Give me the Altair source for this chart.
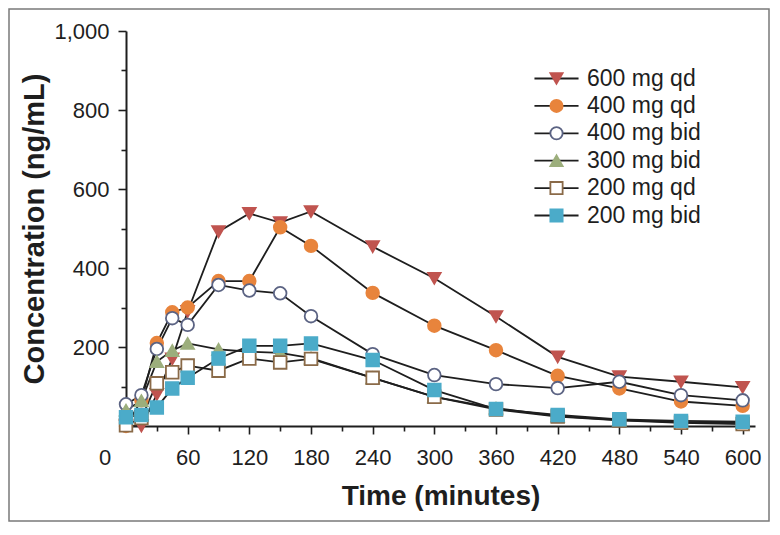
import altair as alt
import pandas as pd

# ---- data ----
times = [0, 15, 30, 45, 60, 90, 120, 150, 180, 240, 300, 360, 420, 480, 540, 600]
series_names = ["600 mg qd", "400 mg qd", "400 mg bid", "300 mg bid", "200 mg qd", "200 mg bid"]
conc_600_qd = [0, 0, 80, 170, 290, 492, 538, 515, 543, 454, 374, 277, 175, 125, 112, 98]
conc_400_qd = [0, 65, 210, 288, 300, 367, 367, 503, 456, 337, 254, 192, 127, 95, 62, 51]
conc_400_bid = [55, 78, 195, 273, 256, 357, 343, 336, 278, 182, 129, 106, 96, 112, 78, 65]
conc_300_bid = [40, 64, 163, 191, 209, 194, 188, 185, 172, 122, 74, 45, 25, 15, 10, 8]
conc_200_qd = [2, 20, 108, 136, 153, 140, 171, 161, 170, 122, 74, 42, 24, 14, 8, 5]
conc_200_bid = [22, 28, 47, 95, 122, 171, 203, 203, 209, 167, 91, 43, 28, 17, 13, 11]

x_major = [60, 120, 180, 240, 300, 360, 420, 480, 540, 600]
x_minor = [30, 90, 150, 210, 270, 330, 390, 450, 510, 570]
y_major = [200, 400, 600, 800, 1000]
y_minor = [100, 300, 500, 700, 900]
corner_label = ["0"]

shapes = ["triangle-down", "circle", "circle", "triangle-up", "square", "square"]
fills = ["#c0544f", "#e8843c", "#ffffff", "#9cae7c", "#ffffff", "#4babc9"]
strokes = ["#c0544f", "#e8843c", "#5b6383", "#9cae7c", "#8a6a48", "#4babc9"]

all_series = [conc_600_qd, conc_400_qd, conc_400_bid, conc_300_bid, conc_200_qd, conc_200_bid]
rows = []
for name, vals in zip(series_names, all_series):
    for t, v in zip(times, vals):
        rows.append({"time": t, "conc": v, "series": name})
df = pd.DataFrame(rows)

FONT = "Liberation Sans, Arial, Helvetica, sans-serif"
INK = "#1e1e1e"

xs = alt.Scale(domain=[0, 612], nice=False, zero=True)
ys = alt.Scale(domain=[0, 1000], nice=False)

axis_common = dict(grid=False, domainColor=INK, tickColor=INK, tickWidth=1.6,
                   labelFont=FONT, labelColor=INK, titleFont=FONT,
                   titleColor=INK, labelFlush=False, labelOverlap=False)

x_major_axis = alt.Axis(orient="bottom", values=x_major, tickSize=8, domainWidth=2,
                        labelFontSize=22, labelPadding=13, title="Time (minutes)",
                        titleFontSize=28, titleFontWeight="bold", titlePadding=14,
                        **axis_common)
x_minor_axis = alt.Axis(orient="bottom", values=x_minor, tickSize=5, domain=False,
                        labels=False, title=None, **axis_common)
y_major_axis = alt.Axis(orient="left", values=y_major, tickSize=8, domainWidth=2,
                        labelExpr="format(datum.value, ',.0f')", labelFontSize=22,
                        labelPadding=9, title="Concentration (ng/mL)", titleFontSize=29,
                        titleFontWeight="bold", titlePadding=4, **axis_common)
y_minor_axis = alt.Axis(orient="left", values=y_minor, tickSize=5, domain=False,
                        labels=False, title=None, **axis_common)

base = alt.Chart(df)

lines = base.mark_line(color=INK, strokeWidth=1.8).encode(
    x=alt.X("time:Q", scale=xs, axis=x_major_axis),
    y=alt.Y("conc:Q", scale=ys, axis=y_major_axis),
    detail="series:N",
)

shape_scale = alt.Scale(domain=series_names, range=shapes)
fill_scale = alt.Scale(domain=series_names, range=fills)
stroke_scale = alt.Scale(domain=series_names, range=strokes)

points = base.mark_point(filled=True, size=160, strokeWidth=1.8, opacity=1).encode(
    x=alt.X("time:Q", scale=xs, axis=x_minor_axis),
    y=alt.Y("conc:Q", scale=ys, axis=y_minor_axis),
    shape=alt.Shape("series:N", scale=shape_scale, legend=None),
    fill=alt.Fill("series:N", scale=fill_scale, legend=None),
    stroke=alt.Stroke("series:N", scale=stroke_scale, legend=None),
)

LEG_X = 419
LEG_Y = 36
leg_common = dict(orient="none", legendX=LEG_X, legendY=LEG_Y, padding=0,
                  symbolSize=150, labelFont=FONT, labelFontSize=23,
                  labelOffset=19, rowPadding=3.4, labelLimit=300)

legend_lines = alt.Legend(title=None, symbolType="M-3.6,0H3.6", symbolStrokeWidth=1.8,
                          labelColor=INK, **leg_common)
legend_marks = alt.Legend(title=None, symbolStrokeWidth=1.8, labelColor="transparent",
                          **leg_common)

leg_l = base.transform_filter("datum.conc < 0").mark_point(
    filled=False, size=150, strokeWidth=1.8, opacity=1).encode(
    x=alt.X("time:Q", scale=xs, axis=None),
    y=alt.Y("conc:Q", scale=ys, axis=None),
    stroke=alt.Stroke("series:N", scale=alt.Scale(domain=series_names, range=[INK] * 6),
                      legend=legend_lines),
)

leg_m = base.transform_filter("datum.conc < 0").mark_point(
    filled=True, size=150, strokeWidth=1.8, opacity=1).encode(
    x=alt.X("time:Q", scale=xs, axis=None),
    y=alt.Y("conc:Q", scale=ys, axis=None),
    shape=alt.Shape("series:N", scale=shape_scale, legend=legend_marks),
    fill=alt.Fill("series:N", scale=fill_scale, legend=legend_marks),
    stroke=alt.Stroke("series:N", scale=stroke_scale, legend=legend_marks),
)

corner = alt.Chart(pd.DataFrame({"time": [0], "conc": [0], "label": corner_label})).mark_text(
    dx=-21, dy=32, font=FONT, fontSize=22, color=INK).encode(
    x=alt.X("time:Q", scale=xs, axis=None),
    y=alt.Y("conc:Q", scale=ys, axis=None),
    text="label:N",
)

W, H = 629, 395
PAD = {"left": 118, "top": 23, "right": 15, "bottom": 96}
frame = alt.Chart(pd.DataFrame({"k": [0]})).mark_rect(
    fillOpacity=0, stroke="#7a7a7a", strokeWidth=1.5).encode(
    x=alt.value(-PAD["left"] + 1), x2=alt.value(W + PAD["right"] - 1),
    y=alt.value(-PAD["top"] + 1), y2=alt.value(H + PAD["bottom"] - 1),
)

chart = alt.layer(frame, lines, points, leg_l, leg_m, corner).resolve_scale(
    shape="independent", fill="independent", stroke="independent"
).resolve_legend(
    shape="independent", fill="independent", stroke="independent"
).resolve_axis(
    x="independent", y="independent"
).properties(
    width=W, height=H,
    autosize=alt.AutoSizeParams(type="none"),
    padding=PAD,
    background="white",
).configure_view(stroke="transparent")

chart.save("out.html", embed_options={"renderer": "svg", "actions": False})
